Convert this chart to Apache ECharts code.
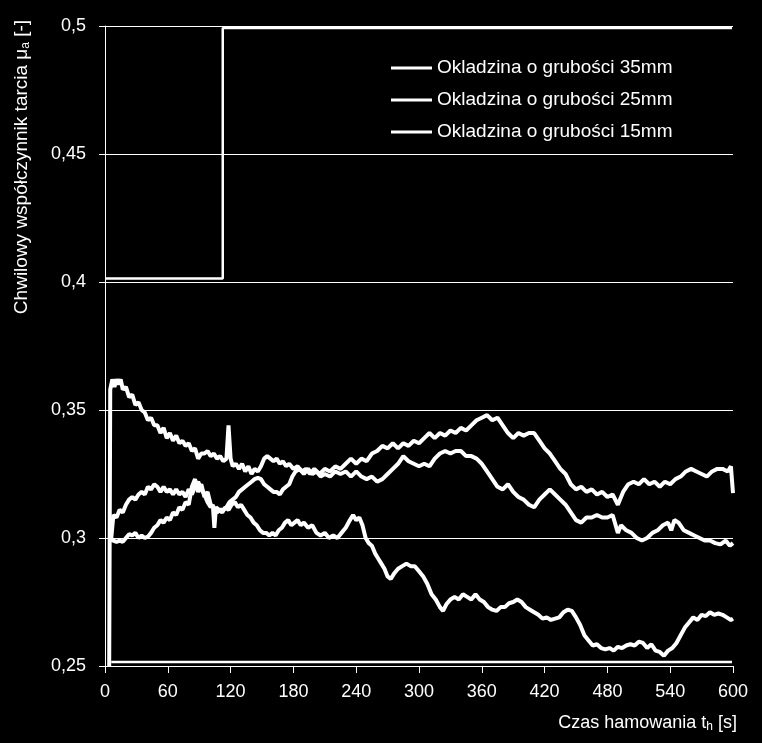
<!DOCTYPE html>
<html>
<head>
<meta charset="utf-8">
<script src="https://cdn.jsdelivr.net/npm/echarts@6/dist/echarts.min.js"></script>
<style>
html,body{margin:0;padding:0;background:#000;}
#chart{width:762px;height:743px;}
</style>
</head>
<body>
<div id="chart"></div>
<script>
// ---- data ----
const seriesNames = ['Okladzina o grubości 35mm', 'Okladzina o grubości 25mm', 'Okladzina o grubości 15mm'];
const xTicks = [0, 60, 120, 180, 240, 300, 360, 420, 480, 540, 600];
const yTicks = [0.25, 0.3, 0.35, 0.4, 0.45, 0.5];

// Okladzina 35mm (curve starting high)
const s35 = [[4,0.25],[5,0.358],[7,0.362],[9,0.359],[11,0.362],[13,0.360],[15,0.362],[17,0.358],[20,0.359],[23,0.355],[26,0.356],[29,0.352],[32,0.353],[35,0.350],[38,0.349],[41,0.346],[44,0.347],[47,0.344],[50,0.344],[53,0.341],[56,0.343],[59,0.339],[62,0.341],[65,0.338],[68,0.340],[71,0.337],[74,0.338],[77,0.336],[80,0.337],[83,0.334],[86,0.335],[89,0.331],[92,0.333],[95,0.333],[98,0.334],[101,0.332],[104,0.333],[107,0.331],[110,0.332],[113,0.330],[116,0.331],[118,0.344],[120,0.331],[122,0.328],[125,0.329],[128,0.327],[131,0.329],[134,0.326],[137,0.328],[140,0.325],[143,0.327],[146,0.326],[149,0.328],[152,0.331],[155,0.332],[158,0.331],[161,0.330],[164,0.331],[167,0.329],[170,0.330],[173,0.328],[176,0.329],[180,0.327],[184,0.328],[188,0.326],[192,0.327],[196,0.325],[200,0.327],[205,0.325],[210,0.327],[215,0.326],[220,0.328],[225,0.327],[230,0.329],[235,0.331],[240,0.329],[245,0.331],[250,0.330],[255,0.333],[260,0.334],[265,0.336],[270,0.335],[275,0.337],[280,0.335],[285,0.337],[290,0.336],[295,0.338],[300,0.337],[305,0.339],[310,0.341],[315,0.339],[320,0.341],[325,0.340],[330,0.342],[335,0.341],[340,0.343],[345,0.342],[350,0.344],[355,0.346],[360,0.347],[365,0.348],[370,0.346],[375,0.347],[380,0.344],[385,0.341],[390,0.339],[395,0.341],[400,0.340],[405,0.341],[410,0.341],[415,0.338],[420,0.335],[425,0.333],[430,0.330],[435,0.327],[440,0.325],[445,0.321],[450,0.319],[455,0.320],[460,0.318],[465,0.319],[470,0.317],[475,0.318],[480,0.316],[485,0.317],[490,0.313],[495,0.318],[500,0.321],[505,0.322],[510,0.321],[515,0.323],[520,0.321],[525,0.322],[530,0.320],[535,0.322],[540,0.321],[545,0.323],[550,0.324],[555,0.326],[560,0.327],[565,0.326],[570,0.325],[575,0.324],[580,0.326],[585,0.327],[590,0.327],[595,0.326],[598,0.328],[600,0.3175]];

// Okladzina 25mm (middle curve)
const s25 = [[5,0.2995],[8,0.299],[11,0.2985],[14,0.299],[17,0.2985],[20,0.300],[23,0.3015],[26,0.301],[29,0.302],[32,0.300],[35,0.301],[38,0.300],[41,0.3005],[44,0.302],[47,0.304],[50,0.305],[53,0.307],[56,0.306],[59,0.308],[62,0.307],[65,0.310],[68,0.309],[71,0.312],[74,0.311],[77,0.314],[80,0.313],[83,0.320],[86,0.323],[89,0.318],[92,0.321],[95,0.316],[98,0.318],[101,0.313],[104,0.312],[107,0.310],[110,0.311],[113,0.311],[116,0.312],[119,0.314],[122,0.315],[125,0.316],[128,0.318],[131,0.319],[134,0.320],[137,0.321],[140,0.322],[143,0.323],[146,0.3235],[149,0.323],[152,0.321],[155,0.320],[158,0.319],[161,0.318],[164,0.318],[167,0.317],[170,0.319],[173,0.320],[176,0.321],[179,0.324],[182,0.326],[186,0.327],[190,0.325],[194,0.327],[198,0.325],[202,0.326],[206,0.324],[210,0.325],[215,0.324],[220,0.326],[225,0.325],[230,0.326],[235,0.324],[240,0.326],[245,0.324],[250,0.323],[255,0.324],[260,0.322],[265,0.323],[270,0.325],[275,0.327],[280,0.329],[285,0.332],[290,0.330],[295,0.329],[300,0.328],[305,0.329],[310,0.328],[315,0.331],[320,0.333],[325,0.334],[330,0.333],[335,0.334],[340,0.334],[345,0.332],[350,0.332],[355,0.331],[360,0.329],[365,0.326],[370,0.323],[375,0.320],[380,0.319],[385,0.321],[390,0.318],[395,0.316],[400,0.315],[405,0.313],[410,0.312],[415,0.315],[420,0.317],[425,0.319],[430,0.317],[435,0.315],[440,0.313],[445,0.310],[450,0.307],[455,0.306],[460,0.308],[465,0.308],[470,0.309],[475,0.308],[480,0.308],[485,0.309],[490,0.302],[493,0.305],[498,0.303],[503,0.302],[508,0.300],[513,0.299],[518,0.300],[523,0.302],[528,0.303],[533,0.305],[538,0.306],[541,0.303],[544,0.307],[548,0.306],[553,0.303],[558,0.302],[563,0.301],[568,0.300],[573,0.299],[578,0.299],[583,0.298],[588,0.2975],[593,0.299],[597,0.297],[600,0.298]];

// Okladzina 15mm (bottom curve)
const s15 = [[6,0.300],[8,0.309],[11,0.308],[14,0.311],[17,0.310],[20,0.313],[23,0.315],[26,0.316],[29,0.315],[32,0.317],[35,0.318],[38,0.317],[41,0.320],[44,0.319],[47,0.321],[50,0.320],[53,0.318],[56,0.320],[59,0.318],[62,0.319],[65,0.317],[68,0.319],[71,0.317],[74,0.318],[77,0.316],[80,0.319],[83,0.317],[86,0.320],[89,0.322],[92,0.319],[95,0.317],[98,0.314],[101,0.312],[103,0.313],[104.5,0.304],[106,0.312],[109,0.311],[112,0.310],[115,0.312],[118,0.311],[121,0.313],[124,0.314],[127,0.312],[130,0.313],[133,0.311],[136,0.309],[139,0.308],[142,0.306],[145,0.305],[148,0.303],[151,0.302],[154,0.302],[157,0.301],[160,0.302],[163,0.301],[166,0.303],[169,0.304],[172,0.306],[175,0.307],[178,0.305],[181,0.306],[184,0.307],[187,0.305],[190,0.306],[194,0.304],[198,0.305],[202,0.302],[206,0.301],[210,0.302],[214,0.300],[218,0.301],[222,0.300],[226,0.302],[230,0.304],[234,0.307],[237,0.309],[240,0.307],[243,0.308],[246,0.305],[249,0.300],[252,0.298],[255,0.297],[258,0.294],[261,0.292],[264,0.290],[267,0.288],[270,0.285],[273,0.284],[276,0.286],[280,0.288],[284,0.289],[288,0.290],[292,0.289],[296,0.289],[300,0.287],[304,0.285],[308,0.282],[312,0.278],[316,0.276],[320,0.273],[323,0.2715],[326,0.274],[330,0.276],[334,0.277],[338,0.276],[342,0.278],[346,0.277],[350,0.276],[354,0.278],[358,0.276],[362,0.275],[366,0.273],[370,0.272],[374,0.2715],[378,0.273],[382,0.273],[386,0.2745],[390,0.275],[394,0.276],[398,0.275],[402,0.273],[406,0.272],[410,0.271],[414,0.270],[418,0.2685],[422,0.269],[426,0.268],[430,0.2685],[434,0.269],[438,0.271],[442,0.272],[446,0.2715],[450,0.269],[454,0.266],[458,0.262],[462,0.260],[466,0.258],[470,0.2585],[474,0.257],[478,0.2565],[482,0.257],[486,0.256],[490,0.2575],[494,0.257],[498,0.258],[502,0.2585],[506,0.258],[510,0.2595],[514,0.259],[518,0.257],[522,0.2585],[526,0.256],[530,0.2555],[534,0.254],[538,0.256],[542,0.257],[546,0.259],[550,0.262],[554,0.265],[558,0.267],[562,0.269],[566,0.268],[570,0.270],[574,0.2695],[578,0.271],[582,0.270],[586,0.2705],[590,0.270],[594,0.269],[598,0.268],[600,0.2685]];

// extra unlabelled lines in the original
const stepTimes = [0, 112.5, 112.5, 599];
const stepValues = [0.4014, 0.4014, 0.4992, 0.4992];
const baseTimes = [6, 599];
const baseValues = [0.2516, 0.2516];

// ---- chart ----
const FONT = "'Liberation Sans',Arial,sans-serif";
const chart = echarts.init(document.getElementById('chart'), null, {renderer: 'canvas'});
const lineStyle = {color: '#fff', width: 4};
function mk(name, data) {
  return {name, type: 'line', data, symbol: 'none', smooth: false, lineStyle, itemStyle: {color: '#fff'}, animation: false, z: 3};
}
const fmt = v => Number(v.toFixed(2)).toString().replace('.', ',');
chart.setOption({
  backgroundColor: '#000',
  animation: false,
  grid: {left: 105, right: 29, top: 26, bottom: 77},
  legend: {
    orient: 'vertical', left: 386, top: 53, itemGap: 12,
    itemWidth: 41, itemHeight: 3, icon: 'rect',
    data: seriesNames,
    textStyle: {color: '#fff', fontFamily: FONT, fontSize: 19, lineHeight: 20}
  },
  xAxis: {
    type: 'value', min: 0, max: 600, interval: 60,
    axisLine: {show: true, lineStyle: {color: '#fff', width: 1}},
    axisTick: {show: true, inside: false, length: 7, lineStyle: {color: '#fff'}},
    axisLabel: {color: '#fff', fontFamily: FONT, fontSize: 18, margin: 17,
      formatter: v => xTicks.includes(v) ? String(v) : ''},
    splitLine: {show: false}
  },
  yAxis: {
    type: 'value', min: 0.25, max: 0.5, interval: 0.05,
    axisLine: {show: true, onZero: false, lineStyle: {color: '#fff', width: 1}},
    axisTick: {show: true, inside: false, length: 6, lineStyle: {color: '#fff'}},
    axisLabel: {color: '#fff', fontFamily: FONT, fontSize: 18, margin: 19, formatter: fmt},
    splitLine: {show: true, lineStyle: {color: '#fff', width: 1}}
  },
  series: [
    mk(seriesNames[0], s35),
    mk(seriesNames[1], s25),
    mk(seriesNames[2], s15),
    {type: 'line', data: stepTimes.map((t, i) => [t, stepValues[i]]), symbol: 'none', lineStyle: {color: '#fff', width: 2.5}, animation: false, silent: true},
    {type: 'line', data: baseTimes.map((t, i) => [t, baseValues[i]]), symbol: 'none', lineStyle: {color: '#fff', width: 2.5}, animation: false, silent: true}
  ],
  graphic: [
    {type: 'text', x: 22, y: 167, rotation: Math.PI / 2,
      style: {text: 'Chwilowy współczynnik tarcia μ{sub|a} [-]', fill: '#fff', font: '19px ' + FONT,
        textAlign: 'center', textVerticalAlign: 'middle',
        rich: {sub: {fontSize: 12, fontFamily: FONT, fill: '#fff', verticalAlign: 'bottom', padding: [8, 0, 0, 0]}}}},
    {type: 'text', x: 737, y: 723,
      style: {text: 'Czas hamowania t{sub|h} [s]', fill: '#fff', font: '18px ' + FONT,
        textAlign: 'right', textVerticalAlign: 'middle',
        rich: {sub: {fontSize: 12, fontFamily: FONT, fill: '#fff', verticalAlign: 'bottom', padding: [8, 0, 0, 0]}}}}
  ]
});
</script>
</body>
</html>
